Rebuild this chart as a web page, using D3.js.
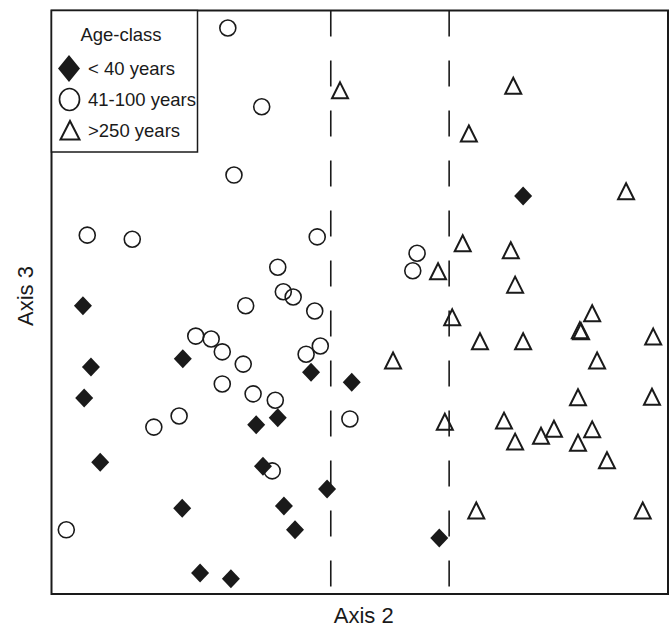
<!DOCTYPE html>
<html>
<head>
<meta charset="utf-8">
<script src="https://cdn.jsdelivr.net/npm/d3@7"></script>
<style>
  body { margin: 0; background: #fff; }
  text { font-family: "Liberation Sans", Arial, sans-serif; fill: #1a1a1a; }
</style>
</head>
<body>
<div id="chart"></div>
<script>
// ordination scores (axis units 0-100, no ticks on original)
var young_x = [5.1, 6.4, 5.3, 7.9, 21.3, 21.2, 24.1, 29.1, 33.2, 36.7, 34.3, 37.7, 39.5, 42.1, 44.7, 48.7, 62.9, 76.5]
var young_y = [49.4, 38.9, 33.6, 22.6, 40.3, 14.7, 3.6, 2.6, 29.0, 30.2, 21.9, 15.1, 11.0, 38.0, 18.0, 36.3, 9.6, 68.2]

var mid_x = [28.6, 34.1, 29.6, 5.8, 13.1, 43.1, 36.7, 37.6, 39.2, 31.5, 42.7, 23.4, 25.9, 27.7, 31.1, 43.6, 41.3, 27.7, 32.7, 36.3, 20.7, 16.6, 35.8, 2.4, 48.4, 59.3, 58.6]
var mid_y = [97.0, 83.5, 71.8, 61.5, 60.8, 61.2, 56.0, 51.8, 50.9, 49.4, 48.5, 44.2, 43.7, 41.5, 39.4, 42.5, 41.1, 36.0, 34.3, 33.2, 30.5, 28.6, 21.1, 11.0, 30.0, 58.4, 55.4]

var old_x = [46.8, 74.9, 67.7, 93.2, 66.7, 74.5, 62.7, 75.2, 65.0, 87.7, 85.7, 85.9, 69.5, 76.5, 97.6, 55.4, 88.5, 85.4, 97.4, 63.8, 73.4, 75.2, 79.4, 81.5, 85.4, 87.7, 90.1, 68.9, 95.9]
var old_y = [86.4, 87.2, 79.0, 69.1, 60.2, 59.0, 55.4, 53.1, 47.5, 48.2, 45.3, 45.1, 43.4, 43.4, 44.2, 40.1, 40.1, 33.8, 33.9, 29.6, 29.8, 26.2, 27.2, 28.4, 26.0, 28.3, 23.0, 14.4, 14.4]

// group boundaries along axis 2
var splits = [45.3, 64.5]

var legend_title = 'Age-class'
var legend_labels = ['< 40 years', '41-100 years', '>250 years']
var axis_labels = ['Axis 2', 'Axis 3']

var w = 670
var h = 627
var ink = '#1a1a1a'

var x = d3.scaleLinear().domain([0, 100]).range([51.5, 668])
var y = d3.scaleLinear().domain([0, 100]).range([594, 10.5])

var svg = d3.select('#chart').append('svg')
  .attr('width', w)
  .attr('height', h)

function pts(xs, ys){
  return xs.map(function(d, i){ return [d, ys[i]] })
}

var diamond = 'M0,-9.5L9,0L0,9.5L-9,0Z'
var triangle = 'M0,-7.5L8,8.5L-8,8.5Z'

// dashed split lines
svg.selectAll('.split')
  .data(splits)
  .enter()
  .append('line')
  .attr('class', 'split')
  .attr('x1', function(d){ return x(d) })
  .attr('x2', function(d){ return x(d) })
  .attr('y1', y(100))
  .attr('y2', y(0))
  .attr('stroke', ink)
  .attr('stroke-width', 1.6)
  .attr('stroke-dasharray', '26,24')

// < 40 years
svg.selectAll('.young')
  .data(pts(young_x, young_y))
  .enter()
  .append('path')
  .attr('class', 'young')
  .attr('d', diamond)
  .attr('transform', function(d){ return 'translate(' + x(d[0]) + ',' + y(d[1]) + ')' })
  .attr('fill', ink)

// 41-100 years
svg.selectAll('.mid')
  .data(pts(mid_x, mid_y))
  .enter()
  .append('circle')
  .attr('class', 'mid')
  .attr('cx', function(d){ return x(d[0]) })
  .attr('cy', function(d){ return y(d[1]) })
  .attr('r', 8)
  .attr('fill', 'none')
  .attr('stroke', ink)
  .attr('stroke-width', 1.6)

// >250 years
svg.selectAll('.old')
  .data(pts(old_x, old_y))
  .enter()
  .append('path')
  .attr('class', 'old')
  .attr('d', triangle)
  .attr('transform', function(d){ return 'translate(' + x(d[0]) + ',' + y(d[1]) + ')' })
  .attr('fill', 'none')
  .attr('stroke', ink)
  .attr('stroke-width', 2)

// frame
svg.append('rect')
  .attr('x', x(0))
  .attr('y', y(100))
  .attr('width', x(100) - x(0))
  .attr('height', y(0) - y(100))
  .attr('fill', 'none')
  .attr('stroke', ink)
  .attr('stroke-width', 2)

// legend
var lg = svg.append('g')
lg.append('rect')
  .attr('x', 51.5)
  .attr('y', 10.5)
  .attr('width', 146)
  .attr('height', 141.5)
  .attr('fill', '#fff')
  .attr('stroke', ink)
  .attr('stroke-width', 1.5)
lg.append('text')
  .attr('x', 121)
  .attr('y', 41)
  .attr('text-anchor', 'middle')
  .style('font-size', '18.5px')
  .text(legend_title)
lg.append('path')
  .attr('d', 'M0,-13.5L11,0L0,13.5L-11,0Z')
  .attr('transform', 'translate(69,68.5)')
  .attr('fill', ink)
lg.append('ellipse')
  .attr('cx', 69.5)
  .attr('cy', 99.5)
  .attr('rx', 10)
  .attr('ry', 11)
  .attr('fill', 'none')
  .attr('stroke', ink)
  .attr('stroke-width', 1.7)
lg.append('path')
  .attr('d', 'M0,-9L9.5,9.5L-9.5,9.5Z')
  .attr('transform', 'translate(70,130)')
  .attr('fill', 'none')
  .attr('stroke', ink)
  .attr('stroke-width', 2)
lg.selectAll('.lbl')
  .data(legend_labels)
  .enter()
  .append('text')
  .attr('class', 'lbl')
  .attr('x', 88)
  .attr('y', function(d, i){ return 75 + i * 31 })
  .style('font-size', '18.5px')
  .text(function(d){ return d })

// axis titles
svg.append('text')
  .attr('x', (x(0) + x(100)) / 2 + 4)
  .attr('y', 623)
  .attr('text-anchor', 'middle')
  .style('font-size', '22px')
  .text(axis_labels[0])
svg.append('text')
  .attr('transform', 'translate(33,' + 296 + ') rotate(-90)')
  .attr('text-anchor', 'middle')
  .style('font-size', '22px')
  .text(axis_labels[1])
</script>
</body>
</html>
